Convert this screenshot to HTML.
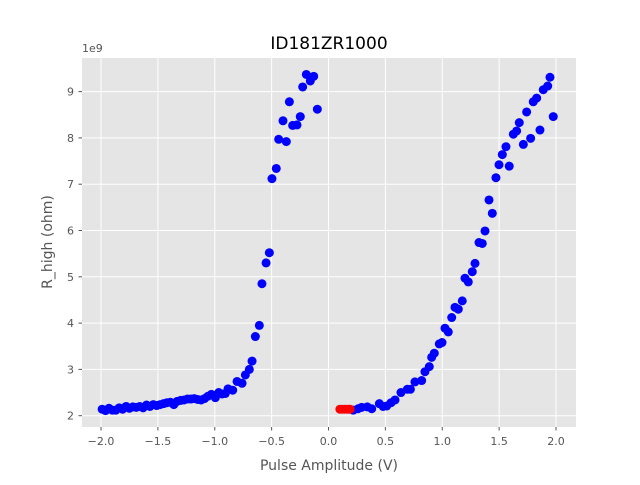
<!DOCTYPE html>
<html><head><meta charset="utf-8"><style>
body{margin:0;background:#fff;}
svg text{font-family:"DejaVu Sans","Liberation Sans",sans-serif;}
</style></head><body>
<svg id="chart" width="640" height="480" xmlns="http://www.w3.org/2000/svg">
<rect x="0" y="0" width="640" height="480" fill="#fff"/>
<rect x="82" y="58" width="494" height="369" fill="#E5E5E5"/>
<g id="grid"></g><g id="ticks"></g><g id="points"></g>
<text x="329" y="49" text-anchor="middle" font-size="17" fill="#000">ID181ZR1000</text>
<text x="82" y="52" font-size="11" fill="#555">1e9</text>
<text x="329" y="470" text-anchor="middle" font-size="14" fill="#555">Pulse Amplitude (V)</text>
<text transform="translate(52,242) rotate(-90)" text-anchor="middle" font-size="14" fill="#555">R_high (ohm)</text>
</svg>
<script>
const xTicks=[-2.0,-1.5,-1.0,-0.5,0.0,0.5,1.0,1.5,2.0];
const xTickLabels=["−2.0","−1.5","−1.0","−0.5","0.0","0.5","1.0","1.5","2.0"];
const yTicks=[2,3,4,5,6,7,8,9];
const negX=[-1.99,-1.96,-1.93,-1.90,-1.87,-1.84,-1.81,-1.78,-1.75,-1.72,-1.69,-1.66,-1.63,-1.60,-1.57,-1.54,-1.51,-1.48,-1.45,-1.42,-1.39,-1.36,-1.33,-1.30,-1.27,-1.24,-1.21,-1.18,-1.15,-1.12,-1.09,-1.06,-1.03,-0.995,-0.965,-0.935,-0.907,-0.883,-0.842,-0.804,-0.76,-0.731,-0.696,-0.672,-0.643,-0.608,-0.585,-0.549,-0.52,-0.497,-0.459,-0.438,-0.40,-0.371,-0.344,-0.315,-0.277,-0.248,-0.227,-0.195,-0.16,-0.13,-0.098];
const negY=[2.14,2.11,2.16,2.12,2.12,2.17,2.14,2.20,2.16,2.19,2.18,2.20,2.17,2.23,2.20,2.24,2.22,2.24,2.26,2.28,2.29,2.24,2.31,2.33,2.34,2.36,2.36,2.37,2.35,2.34,2.37,2.42,2.46,2.39,2.50,2.47,2.48,2.58,2.55,2.74,2.70,2.88,3.00,3.18,3.71,3.95,4.85,5.30,5.52,7.12,7.34,7.97,8.37,7.92,8.78,8.27,8.28,8.46,9.10,9.37,9.23,9.33,8.62];
const posX=[0.218,0.26,0.292,0.341,0.38,0.447,0.48,0.512,0.55,0.585,0.637,0.693,0.72,0.76,0.819,0.848,0.886,0.907,0.93,0.974,0.998,1.024,1.053,1.083,1.112,1.141,1.176,1.2,1.229,1.264,1.288,1.323,1.352,1.376,1.411,1.44,1.472,1.499,1.528,1.56,1.589,1.625,1.654,1.677,1.713,1.742,1.777,1.8,1.83,1.859,1.888,1.927,1.947,1.976];
const posY=[2.12,2.15,2.18,2.19,2.15,2.26,2.20,2.21,2.28,2.34,2.50,2.57,2.57,2.73,2.76,2.95,3.06,3.26,3.35,3.55,3.58,3.89,3.81,4.12,4.34,4.30,4.48,4.97,4.89,5.11,5.29,5.74,5.72,5.99,6.66,6.37,7.14,7.42,7.64,7.81,7.39,8.08,8.15,8.33,7.86,8.56,7.99,8.78,8.86,8.17,9.04,9.12,9.31,8.46];
const redX=[0.10,0.12,0.14,0.16,0.18,0.19];
const redY=[2.14,2.14,2.14,2.14,2.14,2.14];
const NS="http://www.w3.org/2000/svg";
const X=v=>328.5+v*113.75;
const Y=v=>415.7-(v-2)*46.3;
const grid=document.getElementById('grid'),ticks=document.getElementById('ticks'),pts=document.getElementById('points');
function mk(tag,attrs,parent){const e=document.createElementNS(NS,tag);for(const k in attrs)e.setAttribute(k,attrs[k]);parent.appendChild(e);return e;}
xTicks.forEach((t,i)=>{
 const g=mk('line',{x1:X(t),x2:X(t),y1:58,y2:427,stroke:'#fff','stroke-width':1},grid);
 
 
 const tk=mk('line',{x1:X(t),x2:X(t),y1:427,y2:430.5,stroke:'#555','stroke-width':1},ticks);
 
 
 const tx=mk('text',{x:X(t),y:445,'text-anchor':'middle','font-size':11,fill:'#555'},ticks);
 tx.textContent=xTickLabels[i];
 
 
});
yTicks.forEach(t=>{
 const g=mk('line',{x1:82,x2:576,y1:Y(t),y2:Y(t),stroke:'#fff','stroke-width':1},grid);
 
 
 const tk=mk('line',{x1:78.5,x2:82,y1:Y(t),y2:Y(t),stroke:'#555','stroke-width':1},ticks);
 
 
 const tx=mk('text',{x:74,y:Y(t)+4,'text-anchor':'end','font-size':11,fill:'#555'},ticks);
 tx.textContent=String(t);
 
 
});
function series(xs,ys,color,name){
 xs.forEach((x,i)=>{
  const c=mk('circle',{cx:X(x),cy:Y(ys[i]),r:4.5,fill:color},pts);
  
  
 });
}
series(negX,negY,'#0000ff','negative-sweep-point');
series(posX,posY,'#0000ff','positive-sweep-point');
series(redX,redY,'#ff0000','red-point');
</script>
</body></html>
